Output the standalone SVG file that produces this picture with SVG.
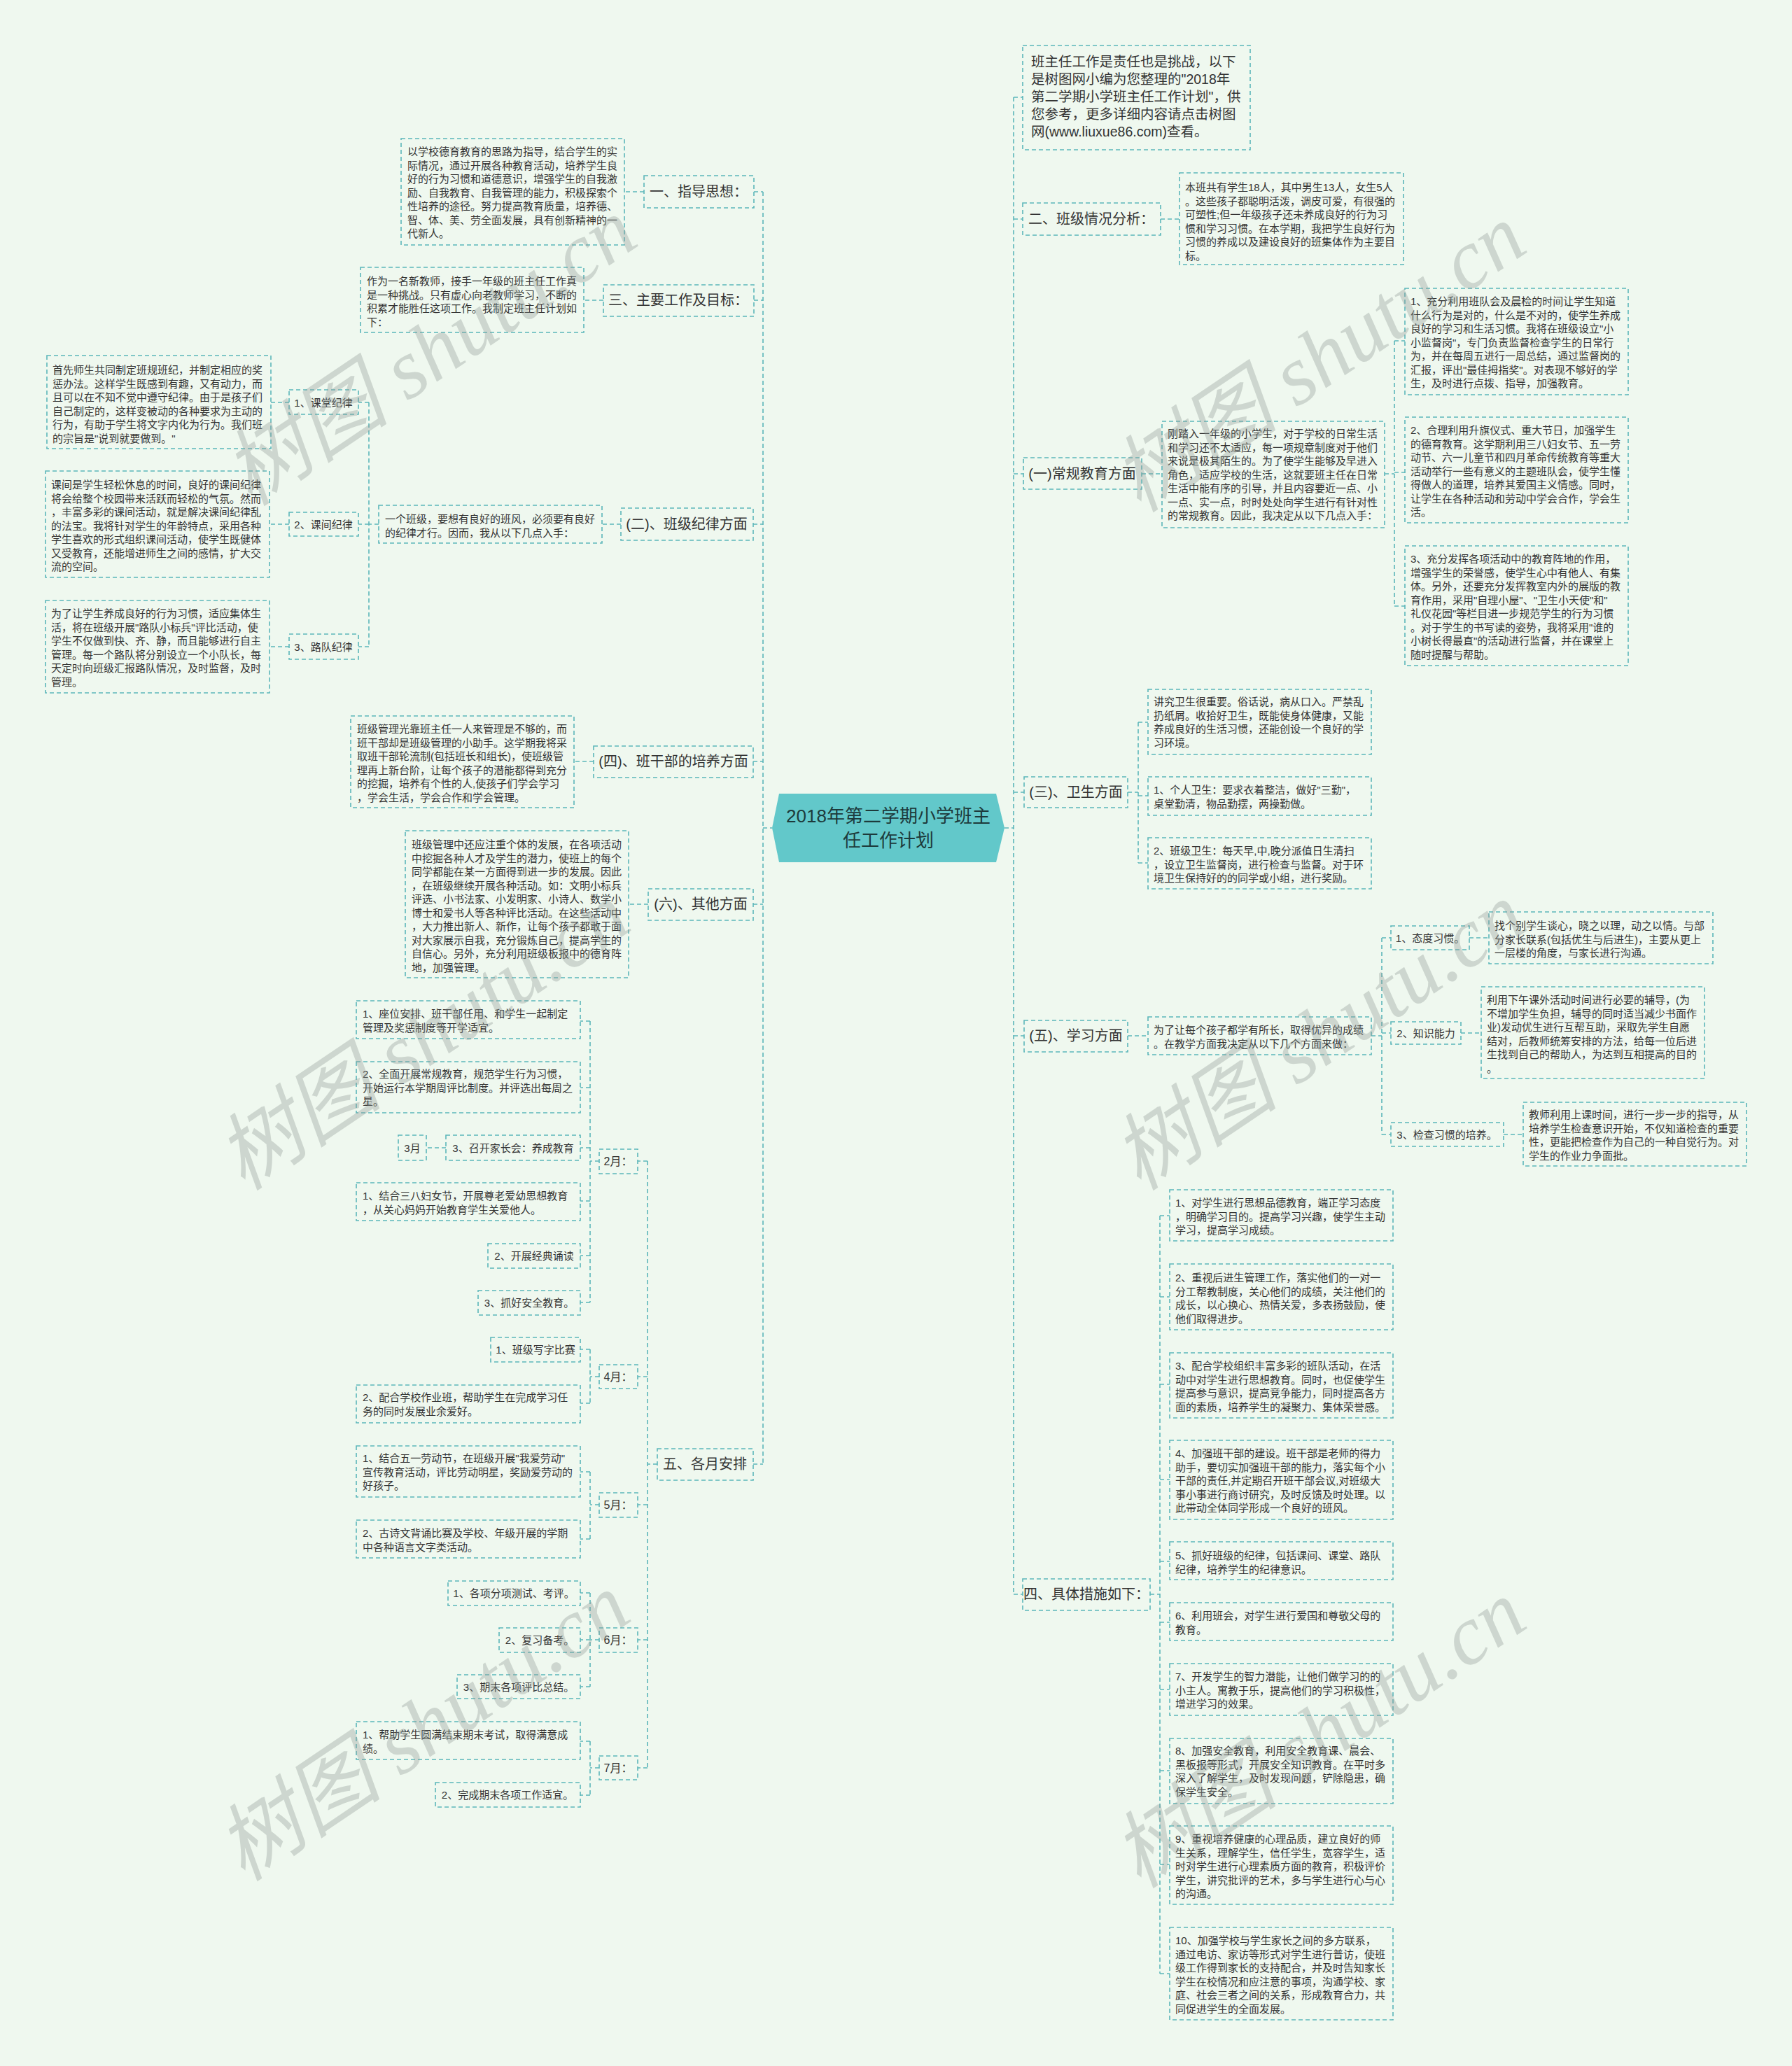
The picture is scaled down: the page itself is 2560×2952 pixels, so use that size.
<svg xmlns="http://www.w3.org/2000/svg" width="2560" height="2952" viewBox="0 0 2560 2952">
<style>
.b{fill:none;stroke:#5cb6ba;stroke-width:1.6;stroke-dasharray:6 4}
.c path{fill:none;stroke:#5cb6ba;stroke-width:1.6;stroke-dasharray:6 4}
text{font-family:"Liberation Sans","Noto Sans CJK SC",sans-serif;fill:#333;dominant-baseline:central}
.t{font-size:15px}
.i{font-size:19.5px}
.l{font-size:20px;text-anchor:middle}
.s{font-size:15px;text-anchor:middle}
.m{font-size:16px;text-anchor:middle}
.r{font-size:26px;text-anchor:middle;fill:#1d3a3b}
.w{font-family:"Liberation Serif","Noto Sans CJK SC",serif;font-style:italic;font-size:120px;fill:#8f9a94;opacity:0.35;dominant-baseline:auto}
</style>
<rect width="2560" height="2952" fill="#eff8ef"/>

<g class="c" id="connectors">
<path d="M1090,274 V2092 M1077,274 H1090 M1077,429 H1090 M1076,749 H1090 M1076,1088 H1090 M1076,1292 H1090 M1076,2092 H1090 M1090,1183 H1103"/>
<path d="M920,274 H892 M862,429 H834 M887,749 H860 M848,1088 H820 M926,1292 H898"/>
<path d="M541,749 H527 M527,575 V924 M527,575 H512 M527,749 H512 M527,924 H512 M413,575 H387 M413,749 H385 M413,924 H385"/>
<path d="M939,2092 H925 M925,1659 V2526 M925,1659 H911 M925,1967 H911 M925,2150 H911 M925,2343 H911 M925,2526 H911"/>
<path d="M856,1659 H843 M843,1459 V1861 M843,1459 H829 M843,1554 H829 M843,1640 H829 M843,1716 H829 M843,1794 H829 M843,1861 H829 M637,1640 H609"/>
<path d="M856,1967 H843 M843,1928 V2005 M843,1928 H829 M843,2005 H829"/>
<path d="M856,2150 H843 M843,2103 V2199 M843,2103 H829 M843,2199 H829"/>
<path d="M856,2343 H843 M843,2276 V2410 M843,2276 H829 M843,2343 H829 M843,2410 H829"/>
<path d="M856,2526 H843 M843,2488 V2565 M843,2488 H829 M843,2565 H829"/>
<path d="M1448,139 V2278 M1448,139 H1461 M1448,313 H1461 M1448,677 H1462 M1448,1132 H1463 M1448,1480 H1463 M1448,2278 H1461 M1435,1183 H1448"/>
<path d="M1658,313 H1685"/>
<path d="M1631,677 H1660 M1978,677 H1992 M1992,487 V866 M1992,487 H2007 M1992,675 H2007 M1992,866 H2007"/>
<path d="M1611,1132 H1626 M1626,1032 V1233 M1626,1032 H1640 M1626,1137 H1640 M1626,1233 H1640"/>
<path d="M1611,1480 H1640 M1959,1480 H1974 M1974,1340 V1621 M1974,1340 H1987 M1974,1476 H1987 M1974,1621 H1987 M2099,1340 H2127 M2087,1476 H2116 M2148,1621 H2176"/>
<path d="M1643,2278 H1657 M1657,1737 V2820 M1657,1737 H1671 M1657,1853 H1671 M1657,1978 H1671 M1657,2114 H1671 M1657,2231 H1671 M1657,2318 H1671 M1657,2414 H1671 M1657,2530 H1671 M1657,2664 H1671 M1657,2820 H1671"/>
</g>

<g id="root">
<polygon points="1103,1183 1113,1134 1423,1134 1435,1183 1423,1232 1113,1232" fill="#62c8ca"/>
<text class="r" x="1269" y="1166">2018年第二学期小学班主</text>
<text class="r" x="1269" y="1201">任工作计划</text>
</g>

<!-- LEFT -->
<g id="n-zhidao"><rect class="b" x="920" y="251" width="157" height="46"/><text class="l" x="998" y="274">一、指导思想：</text></g>
<g id="n-zhidao-a"><rect class="b" x="573" y="198" width="319" height="152"/>
<text class="t" x="582" y="216"><tspan x="582">以学校德育教育的思路为指导，结合学生的实</tspan><tspan x="582" dy="19.5">际情况，通过开展各种教育活动，培养学生良</tspan><tspan x="582" dy="19.5">好的行为习惯和道德意识，增强学生的自我激</tspan><tspan x="582" dy="19.5">励、自我教育、自我管理的能力，积极探索个</tspan><tspan x="582" dy="19.5">性培养的途径。努力提高教育质量，培养德、</tspan><tspan x="582" dy="19.5">智、体、美、劳全面发展，具有创新精神的一</tspan><tspan x="582" dy="19.5">代新人。</tspan></text></g>

<g id="n-mubiao"><rect class="b" x="862" y="407" width="215" height="45"/><text class="l" x="969" y="429">三、主要工作及目标：</text></g>
<g id="n-mubiao-a"><rect class="b" x="515" y="382" width="319" height="93"/>
<text class="t" x="524" y="401"><tspan x="524">作为一名新教师，接手一年级的班主任工作真</tspan><tspan x="524" dy="19.5">是一种挑战。只有虚心向老教师学习，不断的</tspan><tspan x="524" dy="19.5">积累才能胜任这项工作。我制定班主任计划如</tspan><tspan x="524" dy="19.5">下：</tspan></text></g>

<g id="n-jilv"><rect class="b" x="887" y="726" width="189" height="46"/><text class="l" x="981" y="749">(二)、班级纪律方面</text></g>
<g id="n-jilv-a"><rect class="b" x="541" y="722" width="319" height="54"/>
<text class="t" x="550" y="741"><tspan x="550">一个班级，要想有良好的班风，必须要有良好</tspan><tspan x="550" dy="19.5">的纪律才行。因而，我从以下几点入手：</tspan></text></g>
<g id="n-jilv-1"><rect class="b" x="413" y="557" width="99" height="35"/><text class="s" x="462" y="575">1、课堂纪律</text></g>
<g id="n-jilv-1a"><rect class="b" x="67" y="508" width="320" height="133"/>
<text class="t" x="75" y="528"><tspan x="75">首先师生共同制定班规班纪，并制定相应的奖</tspan><tspan x="75" dy="19.5">惩办法。这样学生既感到有趣，又有动力，而</tspan><tspan x="75" dy="19.5">且可以在不知不觉中遵守纪律。由于是孩子们</tspan><tspan x="75" dy="19.5">自己制定的，这样变被动的各种要求为主动的</tspan><tspan x="75" dy="19.5">行为，有助于学生将文字内化为行为。我们班</tspan><tspan x="75" dy="19.5">的宗旨是"说到就要做到。"</tspan></text></g>
<g id="n-jilv-2"><rect class="b" x="413" y="732" width="99" height="34"/><text class="s" x="462" y="749">2、课间纪律</text></g>
<g id="n-jilv-2a"><rect class="b" x="65" y="673" width="320" height="152"/>
<text class="t" x="73" y="692"><tspan x="73">课间是学生轻松休息的时间，良好的课间纪律</tspan><tspan x="73" dy="19.5">将会给整个校园带来活跃而轻松的气氛。然而</tspan><tspan x="73" dy="19.5">，丰富多彩的课间活动，就是解决课间纪律乱</tspan><tspan x="73" dy="19.5">的法宝。我将针对学生的年龄特点，采用各种</tspan><tspan x="73" dy="19.5">学生喜欢的形式组织课间活动，使学生既健体</tspan><tspan x="73" dy="19.5">又受教育，还能增进师生之间的感情，扩大交</tspan><tspan x="73" dy="19.5">流的空间。</tspan></text></g>
<g id="n-jilv-3"><rect class="b" x="413" y="906" width="99" height="36"/><text class="s" x="462" y="924">3、路队纪律</text></g>
<g id="n-jilv-3a"><rect class="b" x="65" y="858" width="320" height="132"/>
<text class="t" x="73" y="876"><tspan x="73">为了让学生养成良好的行为习惯，适应集体生</tspan><tspan x="73" dy="19.5">活，将在班级开展"路队小标兵"评比活动，使</tspan><tspan x="73" dy="19.5">学生不仅做到快、齐、静，而且能够进行自主</tspan><tspan x="73" dy="19.5">管理。每一个路队将分别设立一个小队长，每</tspan><tspan x="73" dy="19.5">天定时向班级汇报路队情况，及时监督，及时</tspan><tspan x="73" dy="19.5">管理。</tspan></text></g>

<g id="n-banganbu"><rect class="b" x="848" y="1066" width="228" height="45"/><text class="l" x="962" y="1088">(四)、班干部的培养方面</text></g>
<g id="n-banganbu-a"><rect class="b" x="501" y="1023" width="319" height="131"/>
<text class="t" x="510" y="1041"><tspan x="510">班级管理光靠班主任一人来管理是不够的，而</tspan><tspan x="510" dy="19.5">班干部却是班级管理的小助手。这学期我将采</tspan><tspan x="510" dy="19.5">取班干部轮流制(包括班长和组长)，使班级管</tspan><tspan x="510" dy="19.5">理再上新台阶，让每个孩子的潜能都得到充分</tspan><tspan x="510" dy="19.5">的挖掘，培养有个性的人,使孩子们学会学习</tspan><tspan x="510" dy="19.5">，学会生活，学会合作和学会管理。</tspan></text></g>

<g id="n-qita"><rect class="b" x="926" y="1270" width="150" height="45"/><text class="l" x="1001" y="1292">(六)、其他方面</text></g>
<g id="n-qita-a"><rect class="b" x="579" y="1187" width="319" height="210"/>
<text class="t" x="588" y="1206"><tspan x="588">班级管理中还应注重个体的发展，在各项活动</tspan><tspan x="588" dy="19.5">中挖掘各种人才及学生的潜力，使班上的每个</tspan><tspan x="588" dy="19.5">同学都能在某一方面得到进一步的发展。因此</tspan><tspan x="588" dy="19.5">，在班级继续开展各种活动。如：文明小标兵</tspan><tspan x="588" dy="19.5">评选、小书法家、小发明家、小诗人、数学小</tspan><tspan x="588" dy="19.5">博士和爱书人等各种评比活动。在这些活动中</tspan><tspan x="588" dy="19.5">，大力推出新人、新作，让每个孩子都敢于面</tspan><tspan x="588" dy="19.5">对大家展示自我，充分锻炼自己，提高学生的</tspan><tspan x="588" dy="19.5">自信心。另外，充分利用班级板报中的德育阵</tspan><tspan x="588" dy="19.5">地，加强管理。</tspan></text></g>

<g id="n-yue"><rect class="b" x="939" y="2070" width="137" height="45"/><text class="l" x="1007" y="2092">五、各月安排</text></g>
<g id="n-m2"><rect class="b" x="856" y="1642" width="55" height="35"/><text class="m" x="883" y="1659">2月：</text></g>
<g id="n-m2-1"><rect class="b" x="509" y="1430" width="320" height="54"/>
<text class="t" x="518" y="1448"><tspan x="518">1、座位安排、班干部任用、和学生一起制定</tspan><tspan x="518" dy="19.5">管理及奖惩制度等开学适宜。</tspan></text></g>
<g id="n-m2-2"><rect class="b" x="509" y="1517" width="320" height="73"/>
<text class="t" x="518" y="1534"><tspan x="518">2、全面开展常规教育，规范学生行为习惯，</tspan><tspan x="518" dy="19.5">开始运行本学期周评比制度。并评选出每周之</tspan><tspan x="518" dy="19.5">星。</tspan></text></g>
<g id="n-m2-3"><rect class="b" x="637" y="1622" width="192" height="36"/><text class="s" x="733" y="1640">3、召开家长会：养成教育</text></g>
<g id="n-m3"><rect class="b" x="569" y="1622" width="40" height="36"/><text class="s" x="589" y="1640">3月</text></g>
<g id="n-m2-4"><rect class="b" x="509" y="1690" width="320" height="54"/>
<text class="t" x="518" y="1708"><tspan x="518">1、结合三八妇女节，开展尊老爱幼思想教育</tspan><tspan x="518" dy="19.5">，从关心妈妈开始教育学生关爱他人。</tspan></text></g>
<g id="n-m2-5"><rect class="b" x="697" y="1777" width="132" height="35"/><text class="s" x="763" y="1794">2、开展经典诵读</text></g>
<g id="n-m2-6"><rect class="b" x="683" y="1844" width="146" height="35"/><text class="s" x="756" y="1861">3、抓好安全教育。</text></g>

<g id="n-m4"><rect class="b" x="856" y="1950" width="55" height="34"/><text class="m" x="883" y="1967">4月：</text></g>
<g id="n-m4-1"><rect class="b" x="701" y="1911" width="128" height="35"/><text class="s" x="765" y="1928">1、班级写字比赛</text></g>
<g id="n-m4-2"><rect class="b" x="509" y="1979" width="320" height="54"/>
<text class="t" x="518" y="1996"><tspan x="518">2、配合学校作业班，帮助学生在完成学习任</tspan><tspan x="518" dy="19.5">务的同时发展业余爱好。</tspan></text></g>

<g id="n-m5"><rect class="b" x="856" y="2133" width="55" height="35"/><text class="m" x="883" y="2150">5月：</text></g>
<g id="n-m5-1"><rect class="b" x="509" y="2066" width="320" height="73"/>
<text class="t" x="518" y="2083"><tspan x="518">1、结合五一劳动节，在班级开展"我爱劳动"</tspan><tspan x="518" dy="19.5">宣传教育活动，评比劳动明星，奖励爱劳动的</tspan><tspan x="518" dy="19.5">好孩子。</tspan></text></g>
<g id="n-m5-2"><rect class="b" x="509" y="2172" width="320" height="54"/>
<text class="t" x="518" y="2190"><tspan x="518">2、古诗文背诵比赛及学校、年级开展的学期</tspan><tspan x="518" dy="19.5">中各种语言文字类活动。</tspan></text></g>

<g id="n-m6"><rect class="b" x="856" y="2326" width="55" height="35"/><text class="m" x="883" y="2343">6月：</text></g>
<g id="n-m6-1"><rect class="b" x="640" y="2259" width="189" height="35"/><text class="s" x="734" y="2276">1、各项分项测试、考评。</text></g>
<g id="n-m6-2"><rect class="b" x="713" y="2326" width="116" height="35"/><text class="s" x="771" y="2343">2、复习备考。</text></g>
<g id="n-m6-3"><rect class="b" x="653" y="2393" width="176" height="34"/><text class="s" x="741" y="2410">3、期末各项评比总结。</text></g>

<g id="n-m7"><rect class="b" x="856" y="2509" width="55" height="34"/><text class="m" x="883" y="2526">7月：</text></g>
<g id="n-m7-1"><rect class="b" x="509" y="2460" width="320" height="54"/>
<text class="t" x="518" y="2478"><tspan x="518">1、帮助学生圆满结束期末考试，取得满意成</tspan><tspan x="518" dy="19.5">绩。</tspan></text></g>
<g id="n-m7-2"><rect class="b" x="622" y="2547" width="207" height="35"/><text class="s" x="725" y="2564">2、完成期末各项工作适宜。</text></g>

<!-- RIGHT -->
<g id="n-intro"><rect class="b" x="1461" y="65" width="325" height="149"/>
<text class="i" x="1473" y="88"><tspan x="1473">班主任工作是责任也是挑战，以下</tspan><tspan x="1473" dy="25">是树图网小编为您整理的"2018年</tspan><tspan x="1473" dy="25">第二学期小学班主任工作计划"，供</tspan><tspan x="1473" dy="25">您参考，更多详细内容请点击树图</tspan><tspan x="1473" dy="25">网(www.liuxue86.com)查看。</tspan></text></g>

<g id="n-qingkuang"><rect class="b" x="1461" y="290" width="197" height="46"/><text class="l" x="1559" y="313">二、班级情况分析：</text></g>
<g id="n-qingkuang-a"><rect class="b" x="1685" y="247" width="320" height="131"/>
<text class="t" x="1693" y="267"><tspan x="1693">本班共有学生18人，其中男生13人，女生5人</tspan><tspan x="1693" dy="19.5">。这些孩子都聪明活泼，调皮可爱，有很强的</tspan><tspan x="1693" dy="19.5">可塑性;但一年级孩子还未养成良好的行为习</tspan><tspan x="1693" dy="19.5">惯和学习习惯。在本学期，我把学生良好行为</tspan><tspan x="1693" dy="19.5">习惯的养成以及建设良好的班集体作为主要目</tspan><tspan x="1693" dy="19.5">标。</tspan></text></g>

<g id="n-changgui"><rect class="b" x="1462" y="654" width="169" height="45"/><text class="l" x="1546" y="677">(一)常规教育方面</text></g>
<g id="n-changgui-a"><rect class="b" x="1660" y="602" width="318" height="152"/>
<text class="t" x="1668" y="619"><tspan x="1668">刚踏入一年级的小学生，对于学校的日常生活</tspan><tspan x="1668" dy="19.5">和学习还不太适应，每一项规章制度对于他们</tspan><tspan x="1668" dy="19.5">来说是极其陌生的。为了使学生能够及早进入</tspan><tspan x="1668" dy="19.5">角色，适应学校的生活，这就要班主任在日常</tspan><tspan x="1668" dy="19.5">生活中能有序的引导，并且内容要近一点、小</tspan><tspan x="1668" dy="19.5">一点、实一点，时时处处向学生进行有针对性</tspan><tspan x="1668" dy="19.5">的常规教育。因此，我决定从以下几点入手：</tspan></text></g>
<g id="n-changgui-1"><rect class="b" x="2007" y="412" width="319" height="152"/>
<text class="t" x="2015" y="430"><tspan x="2015">1、充分利用班队会及晨检的时间让学生知道</tspan><tspan x="2015" dy="19.5">什么行为是对的，什么是不对的，使学生养成</tspan><tspan x="2015" dy="19.5">良好的学习和生活习惯。我将在班级设立"小</tspan><tspan x="2015" dy="19.5">小监督岗"，专门负责监督检查学生的日常行</tspan><tspan x="2015" dy="19.5">为，并在每周五进行一周总结，通过监督岗的</tspan><tspan x="2015" dy="19.5">汇报，评出"最佳拇指奖"。对表现不够好的学</tspan><tspan x="2015" dy="19.5">生，及时进行点拨、指导，加强教育。</tspan></text></g>
<g id="n-changgui-2"><rect class="b" x="2007" y="596" width="319" height="151"/>
<text class="t" x="2015" y="614"><tspan x="2015">2、合理利用升旗仪式、重大节日，加强学生</tspan><tspan x="2015" dy="19.5">的德育教育。这学期利用三八妇女节、五一劳</tspan><tspan x="2015" dy="19.5">动节、六一儿童节和四月革命传统教育等重大</tspan><tspan x="2015" dy="19.5">活动举行一些有意义的主题班队会，使学生懂</tspan><tspan x="2015" dy="19.5">得做人的道理，培养其爱国主义情感。同时，</tspan><tspan x="2015" dy="19.5">让学生在各种活动和劳动中学会合作，学会生</tspan><tspan x="2015" dy="19.5">活。</tspan></text></g>
<g id="n-changgui-3"><rect class="b" x="2007" y="780" width="319" height="171"/>
<text class="t" x="2015" y="798"><tspan x="2015">3、充分发挥各项活动中的教育阵地的作用，</tspan><tspan x="2015" dy="19.5">增强学生的荣誉感，使学生心中有他人、有集</tspan><tspan x="2015" dy="19.5">体。另外，还要充分发挥教室内外的展版的教</tspan><tspan x="2015" dy="19.5">育作用，采用"自理小屋"、"卫生小天使"和"</tspan><tspan x="2015" dy="19.5">礼仪花园"等栏目进一步规范学生的行为习惯</tspan><tspan x="2015" dy="19.5">。对于学生的书写读的姿势，我将采用"谁的</tspan><tspan x="2015" dy="19.5">小树长得最直"的活动进行监督，并在课堂上</tspan><tspan x="2015" dy="19.5">随时提醒与帮助。</tspan></text></g>

<g id="n-weisheng"><rect class="b" x="1463" y="1110" width="148" height="44"/><text class="l" x="1537" y="1132">(三)、卫生方面</text></g>
<g id="n-weisheng-a"><rect class="b" x="1640" y="985" width="319" height="93"/>
<text class="t" x="1648" y="1002"><tspan x="1648">讲究卫生很重要。俗话说，病从口入。严禁乱</tspan><tspan x="1648" dy="19.5">扔纸屑。收拾好卫生，既能使身体健康，又能</tspan><tspan x="1648" dy="19.5">养成良好的生活习惯，还能创设一个良好的学</tspan><tspan x="1648" dy="19.5">习环境。</tspan></text></g>
<g id="n-weisheng-b"><rect class="b" x="1640" y="1110" width="319" height="55"/>
<text class="t" x="1648" y="1128"><tspan x="1648">1、个人卫生：要求衣着整洁，做好"三勤"，</tspan><tspan x="1648" dy="19.5">桌堂勤清，物品勤摆，两操勤做。</tspan></text></g>
<g id="n-weisheng-c"><rect class="b" x="1640" y="1197" width="319" height="73"/>
<text class="t" x="1648" y="1215"><tspan x="1648">2、班级卫生：每天早,中,晚分派值日生清扫</tspan><tspan x="1648" dy="19.5">，设立卫生监督岗，进行检查与监督。对于环</tspan><tspan x="1648" dy="19.5">境卫生保持好的的同学或小组，进行奖励。</tspan></text></g>

<g id="n-xuexi"><rect class="b" x="1463" y="1458" width="148" height="45"/><text class="l" x="1537" y="1480">(五)、学习方面</text></g>
<g id="n-xuexi-a"><rect class="b" x="1640" y="1453" width="319" height="54"/>
<text class="t" x="1648" y="1471"><tspan x="1648">为了让每个孩子都学有所长，取得优异的成绩</tspan><tspan x="1648" dy="19.5">。在教学方面我决定从以下几个方面来做：</tspan></text></g>
<g id="n-xuexi-1"><rect class="b" x="1987" y="1323" width="112" height="34"/><text class="s" x="2043" y="1340">1、态度习惯。</text></g>
<g id="n-xuexi-1a"><rect class="b" x="2127" y="1303" width="320" height="74"/>
<text class="t" x="2135" y="1322"><tspan x="2135">找个别学生谈心，晓之以理，动之以情。与部</tspan><tspan x="2135" dy="19.5">分家长联系(包括优生与后进生)，主要从更上</tspan><tspan x="2135" dy="19.5">一层楼的角度，与家长进行沟通。</tspan></text></g>
<g id="n-xuexi-2"><rect class="b" x="1987" y="1460" width="100" height="32"/><text class="s" x="2037" y="1476">2、知识能力</text></g>
<g id="n-xuexi-2a"><rect class="b" x="2116" y="1410" width="319" height="131"/>
<text class="t" x="2124" y="1428"><tspan x="2124">利用下午课外活动时间进行必要的辅导，(为</tspan><tspan x="2124" dy="19.5">不增加学生负担，辅导的同时适当减少书面作</tspan><tspan x="2124" dy="19.5">业)发动优生进行互帮互助，采取先学生自愿</tspan><tspan x="2124" dy="19.5">结对，后教师统筹安排的方法，给每一位后进</tspan><tspan x="2124" dy="19.5">生找到自己的帮助人，为达到互相提高的目的</tspan><tspan x="2124" dy="19.5">。</tspan></text></g>
<g id="n-xuexi-3"><rect class="b" x="1987" y="1604" width="161" height="34"/><text class="s" x="2067" y="1621">3、检查习惯的培养。</text></g>
<g id="n-xuexi-3a"><rect class="b" x="2176" y="1575" width="319" height="91"/>
<text class="t" x="2184" y="1592"><tspan x="2184">教师利用上课时间，进行一步一步的指导，从</tspan><tspan x="2184" dy="19.5">培养学生检查意识开始，不仅知道检查的重要</tspan><tspan x="2184" dy="19.5">性，更能把检查作为自己的一种自觉行为。对</tspan><tspan x="2184" dy="19.5">学生的作业力争面批。</tspan></text></g>

<g id="n-cuoshi"><rect class="b" x="1461" y="2256" width="182" height="45"/><text class="l" x="1552" y="2278">四、具体措施如下：</text></g>
<g id="n-cuoshi-1"><rect class="b" x="1671" y="1700" width="319" height="73"/>
<text class="t" x="1679" y="1718"><tspan x="1679">1、对学生进行思想品德教育，端正学习态度</tspan><tspan x="1679" dy="19.5">，明确学习目的。提高学习兴趣，使学生主动</tspan><tspan x="1679" dy="19.5">学习，提高学习成绩。</tspan></text></g>
<g id="n-cuoshi-2"><rect class="b" x="1671" y="1806" width="319" height="94"/>
<text class="t" x="1679" y="1825"><tspan x="1679">2、重视后进生管理工作，落实他们的一对一</tspan><tspan x="1679" dy="19.5">分工帮教制度，关心他们的成绩，关注他们的</tspan><tspan x="1679" dy="19.5">成长，以心换心、热情关爱，多表扬鼓励，使</tspan><tspan x="1679" dy="19.5">他们取得进步。</tspan></text></g>
<g id="n-cuoshi-3"><rect class="b" x="1671" y="1933" width="319" height="93"/>
<text class="t" x="1679" y="1951"><tspan x="1679">3、配合学校组织丰富多彩的班队活动，在活</tspan><tspan x="1679" dy="19.5">动中对学生进行思想教育。同时，也促使学生</tspan><tspan x="1679" dy="19.5">提高参与意识，提高竞争能力，同时提高各方</tspan><tspan x="1679" dy="19.5">面的素质，培养学生的凝聚力、集体荣誉感。</tspan></text></g>
<g id="n-cuoshi-4"><rect class="b" x="1671" y="2058" width="319" height="113"/>
<text class="t" x="1679" y="2076"><tspan x="1679">4、加强班干部的建设。班干部是老师的得力</tspan><tspan x="1679" dy="19.5">助手，要切实加强班干部的能力，落实每个小</tspan><tspan x="1679" dy="19.5">干部的责任,并定期召开班干部会议,对班级大</tspan><tspan x="1679" dy="19.5">事小事进行商讨研究，及时反馈及时处理。以</tspan><tspan x="1679" dy="19.5">此带动全体同学形成一个良好的班风。</tspan></text></g>
<g id="n-cuoshi-5"><rect class="b" x="1671" y="2203" width="319" height="54"/>
<text class="t" x="1679" y="2222"><tspan x="1679">5、抓好班级的纪律，包括课间、课堂、路队</tspan><tspan x="1679" dy="19.5">纪律，培养学生的纪律意识。</tspan></text></g>
<g id="n-cuoshi-6"><rect class="b" x="1671" y="2290" width="319" height="54"/>
<text class="t" x="1679" y="2308"><tspan x="1679">6、利用班会，对学生进行爱国和尊敬父母的</tspan><tspan x="1679" dy="19.5">教育。</tspan></text></g>
<g id="n-cuoshi-7"><rect class="b" x="1671" y="2377" width="319" height="74"/>
<text class="t" x="1679" y="2395"><tspan x="1679">7、开发学生的智力潜能，让他们做学习的的</tspan><tspan x="1679" dy="19.5">小主人。寓教于乐，提高他们的学习积极性，</tspan><tspan x="1679" dy="19.5">增进学习的效果。</tspan></text></g>
<g id="n-cuoshi-8"><rect class="b" x="1671" y="2484" width="319" height="93"/>
<text class="t" x="1679" y="2501"><tspan x="1679">8、加强安全教育，利用安全教育课、晨会、</tspan><tspan x="1679" dy="19.5">黑板报等形式，开展安全知识教育。在平时多</tspan><tspan x="1679" dy="19.5">深入了解学生，及时发现问题，铲除隐患，确</tspan><tspan x="1679" dy="19.5">保学生安全。</tspan></text></g>
<g id="n-cuoshi-9"><rect class="b" x="1671" y="2609" width="319" height="112"/>
<text class="t" x="1679" y="2627"><tspan x="1679">9、重视培养健康的心理品质，建立良好的师</tspan><tspan x="1679" dy="19.5">生关系，理解学生，信任学生，宽容学生，适</tspan><tspan x="1679" dy="19.5">时对学生进行心理素质方面的教育，积极评价</tspan><tspan x="1679" dy="19.5">学生，讲究批评的艺术，多与学生进行心与心</tspan><tspan x="1679" dy="19.5">的沟通。</tspan></text></g>
<g id="n-cuoshi-10"><rect class="b" x="1671" y="2754" width="319" height="132"/>
<text class="t" x="1679" y="2772"><tspan x="1679">10、加强学校与学生家长之间的多方联系，</tspan><tspan x="1679" dy="19.5">通过电访、家访等形式对学生进行普访，使班</tspan><tspan x="1679" dy="19.5">级工作得到家长的支持配合，并及时告知家长</tspan><tspan x="1679" dy="19.5">学生在校情况和应注意的事项，沟通学校、家</tspan><tspan x="1679" dy="19.5">庭、社会三者之间的关系，形成教育合力，共</tspan><tspan x="1679" dy="19.5">同促进学生的全面发展。</tspan></text></g>

<g id="watermarks">
<text class="w" transform="translate(358,725) rotate(-34)">树图 shutu.cn</text>
<text class="w" transform="translate(348,1703) rotate(-34)">树图 shutu.cn</text>
<text class="w" transform="translate(348,2690) rotate(-34)">树图 shutu.cn</text>
<text class="w" transform="translate(1628,734) rotate(-34)">树图 shutu.cn</text>
<text class="w" transform="translate(1628,1703) rotate(-34)">树图 shutu.cn</text>
<text class="w" transform="translate(1628,2700) rotate(-34)">树图 shutu.cn</text>
</g>
</svg>
